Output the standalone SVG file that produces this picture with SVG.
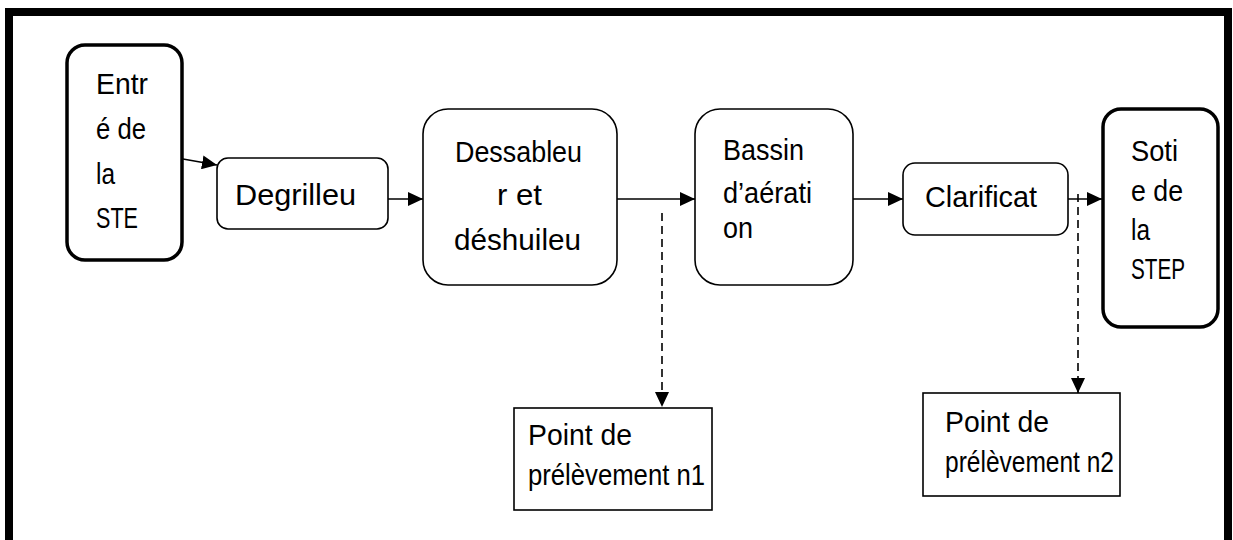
<svg xmlns="http://www.w3.org/2000/svg" width="1233" height="540" viewBox="0 0 1233 540">
  <style>
    .bg { fill: #ffffff; }
    .frame { fill: none; stroke: #000; stroke-width: 8; }
    .box { fill: #fff; stroke: #000; stroke-width: 1.6; }
    .endpoint { fill: #fff; stroke: #000; stroke-width: 3.5; }
    .label { font-family: "Liberation Sans", Arial, sans-serif; font-size: 29px; fill: #000; }
    .flow { fill: none; stroke: #000; stroke-width: 1.6; }
    .sample { fill: none; stroke: #000; stroke-width: 1.6; stroke-dasharray: 8 5; }
  </style>
  <defs>
    <marker id="head" markerUnits="userSpaceOnUse" markerWidth="16" markerHeight="14" refX="15" refY="7" orient="auto">
      <path d="M0,0 L15,7 L0,14 Z" fill="#000"/>
    </marker>
  </defs>

  <rect class="bg" x="0" y="0" width="1233" height="540"/>
  <!-- outer frame, open at the bottom edge -->
  <rect class="frame" x="9" y="12" width="1219" height="560"/>

  <g id="connectors">
    <line class="flow" x1="183" y1="159" x2="217" y2="165" marker-end="url(#head)"/>
    <line class="flow" x1="388" y1="199" x2="423" y2="199" marker-end="url(#head)"/>
    <line class="flow" x1="617" y1="199" x2="695" y2="199" marker-end="url(#head)"/>
    <line class="flow" x1="853" y1="199" x2="903" y2="199" marker-end="url(#head)"/>
    <line class="flow" x1="1068" y1="199" x2="1102" y2="199" marker-end="url(#head)"/>
    <line class="sample" x1="662" y1="213" x2="662" y2="407" marker-end="url(#head)"/>
    <line class="sample" x1="1078" y1="194" x2="1078" y2="393" marker-end="url(#head)"/>
  </g>

  <g id="entree">
    <rect class="endpoint" x="67" y="45" width="115" height="215" rx="18"/>
    <text class="label" x="96" y="94" textLength="52" lengthAdjust="spacingAndGlyphs">Entr</text>
    <text class="label" x="96" y="139" textLength="50" lengthAdjust="spacingAndGlyphs">é de</text>
    <text class="label" x="96" y="184" textLength="19" lengthAdjust="spacingAndGlyphs">la</text>
    <text class="label" x="96" y="228" textLength="42" lengthAdjust="spacingAndGlyphs">STE</text>
  </g>

  <g id="degrilleur">
    <rect class="box" x="217" y="158" width="171" height="71" rx="11"/>
    <text class="label" x="235" y="205" textLength="121" lengthAdjust="spacingAndGlyphs">Degrilleu</text>
  </g>

  <g id="dessableur">
    <rect class="box" x="423" y="109" width="194" height="176" rx="25"/>
    <text class="label" x="455" y="162" textLength="127" lengthAdjust="spacingAndGlyphs">Dessableu</text>
    <text class="label" x="497" y="205" textLength="45" lengthAdjust="spacingAndGlyphs">r et</text>
    <text class="label" x="454" y="250" textLength="127" lengthAdjust="spacingAndGlyphs">déshuileu</text>
  </g>

  <g id="bassin">
    <rect class="box" x="695" y="109" width="158" height="176" rx="25"/>
    <text class="label" x="723" y="160" textLength="81" lengthAdjust="spacingAndGlyphs">Bassin</text>
    <text class="label" x="723" y="203" textLength="89" lengthAdjust="spacingAndGlyphs">d’aérati</text>
    <text class="label" x="723" y="238" textLength="30" lengthAdjust="spacingAndGlyphs">on</text>
  </g>

  <g id="clarificateur">
    <rect class="box" x="903" y="163" width="165" height="72" rx="12"/>
    <text class="label" x="925" y="207" textLength="112" lengthAdjust="spacingAndGlyphs">Clarificat</text>
  </g>

  <g id="sortie">
    <rect class="endpoint" x="1103" y="109" width="115" height="218" rx="18"/>
    <text class="label" x="1131" y="161" textLength="47" lengthAdjust="spacingAndGlyphs">Soti</text>
    <text class="label" x="1131" y="201" textLength="52" lengthAdjust="spacingAndGlyphs">e de</text>
    <text class="label" x="1131" y="240" textLength="19" lengthAdjust="spacingAndGlyphs">la</text>
    <text class="label" x="1131" y="279" textLength="54" lengthAdjust="spacingAndGlyphs">STEP</text>
  </g>

  <g id="point1">
    <rect class="box" x="514" y="408" width="198" height="102"/>
    <text class="label" x="528" y="445" textLength="104" lengthAdjust="spacingAndGlyphs">Point de</text>
    <text class="label" x="528" y="485" textLength="177" lengthAdjust="spacingAndGlyphs">prélèvement n1</text>
  </g>

  <g id="point2">
    <rect class="box" x="923" y="393" width="197" height="103"/>
    <text class="label" x="945" y="432" textLength="104" lengthAdjust="spacingAndGlyphs">Point de</text>
    <text class="label" x="945" y="472" textLength="169" lengthAdjust="spacingAndGlyphs">prélèvement n2</text>
  </g>
</svg>
